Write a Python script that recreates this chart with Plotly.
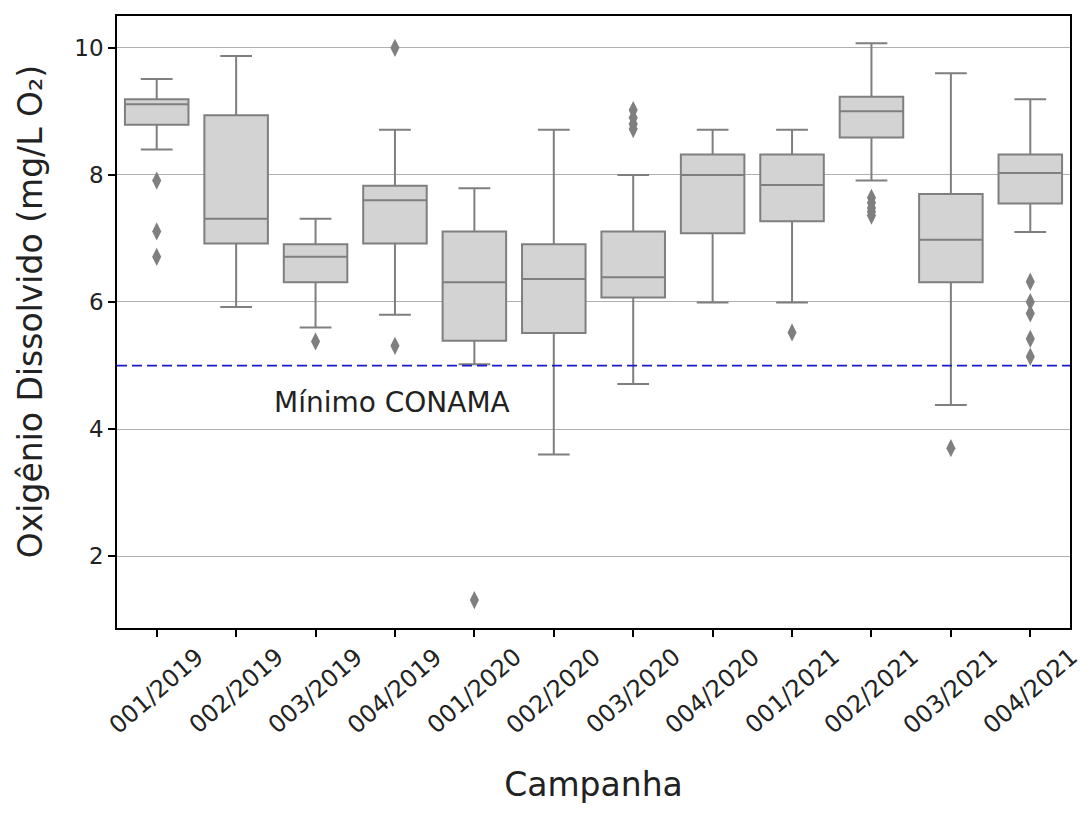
import plotly.graph_objects as go

campanhas = ["001/2019", "002/2019", "003/2019", "004/2019",
             "001/2020", "002/2020", "003/2020", "004/2020",
             "001/2021", "002/2021", "003/2021", "004/2021"]

lower_whisker = [8.40, 5.92, 5.60, 5.80, 5.02, 3.60, 4.71, 5.99, 5.99, 7.91, 4.38, 7.10]
q1_vals       = [8.79, 6.92, 6.31, 6.92, 5.39, 5.51, 6.07, 7.08, 7.27, 8.59, 6.31, 7.55]
median_vals   = [9.11, 7.31, 6.71, 7.60, 6.31, 6.36, 6.39, 8.00, 7.84, 9.00, 6.98, 8.03]
q3_vals       = [9.19, 8.94, 6.91, 7.83, 7.11, 6.91, 7.11, 8.32, 8.32, 9.23, 7.70, 8.32]
upper_whisker = [9.51, 9.87, 7.31, 8.71, 7.79, 8.71, 8.00, 8.71, 8.71, 10.07, 9.60, 9.19]

outlier_campanha = ["001/2019", "001/2019", "001/2019",
                    "003/2019",
                    "004/2019", "004/2019",
                    "001/2020",
                    "003/2020", "003/2020", "003/2020", "003/2020",
                    "001/2021",
                    "002/2021", "002/2021", "002/2021", "002/2021", "002/2021",
                    "003/2021",
                    "004/2021", "004/2021", "004/2021", "004/2021", "004/2021"]
outlier_values = [7.91, 7.11, 6.71,
                  5.38,
                  10.0, 5.31,
                  1.31,
                  9.02, 8.90, 8.80, 8.72,
                  5.52,
                  7.64, 7.56, 7.48, 7.42, 7.36,
                  3.70,
                  6.32, 6.00, 5.82, 5.42, 5.14]

limite_conama = 5.0
y_ticks = [2, 4, 6, 8, 10]

font_family = "DejaVu Sans"
box_line = "#7f7f7f"
text_color = "#222222"

fig = go.Figure()

fig.add_trace(go.Box(
    x=campanhas,
    q1=q1_vals, median=median_vals, q3=q3_vals,
    lowerfence=lower_whisker, upperfence=upper_whisker,
    fillcolor="#d3d3d3",
    line=dict(color=box_line, width=2),
    width=0.8,
    whiskerwidth=0.5,
    boxpoints=False,
    showlegend=False,
    hoverinfo="skip",
))

fig.add_trace(go.Scatter(
    x=outlier_campanha, y=outlier_values,
    mode="markers",
    marker=dict(symbol="diamond-tall", size=13, color=box_line, line=dict(width=0)),
    showlegend=False,
))

fig.add_shape(type="line", xref="paper", yref="y",
              x0=0, x1=1, y0=limite_conama, y1=limite_conama,
              line=dict(color="#1a1acc", width=1.8, dash="10px,5px"))

fig.add_annotation(x=1.45, y=4.42, xref="x", yref="y",
                   text="Mínimo CONAMA", showarrow=False,
                   xanchor="left", yanchor="middle",
                   font=dict(family=font_family, size=28, color=text_color))

# rotated category labels centred under their ticks (matplotlib style)
for c in campanhas:
    fig.add_annotation(x=c, y=0, xref="x", yref="paper",
                       text=c, showarrow=False, textangle=-41,
                       xanchor="center", yanchor="top", yshift=-12,
                       font=dict(family=font_family, size=24, color=text_color))

# y-axis title
fig.add_annotation(x=0, y=0.516, xref="paper", yref="paper",
                   text="Oxigênio Dissolvido (mg/L O₂)", showarrow=False,
                   textangle=-90, xanchor="center", yanchor="middle", xshift=-87,
                   font=dict(family=font_family, size=33, color=text_color))

fig.update_layout(
    width=1084, height=811,
    margin=dict(l=109, r=22, t=6, b=191),
    paper_bgcolor="white", plot_bgcolor="white",
    font=dict(family=font_family, color=text_color),
)

fig.update_xaxes(
    type="category", categoryorder="array", categoryarray=campanhas,
    range=[-0.5, 11.5],
    showticklabels=False,
    ticks="outside", ticklen=7, tickwidth=1.5, tickcolor="black",
    showgrid=False, showline=True, linecolor="black", linewidth=1.5, mirror=True,
    title=dict(text="Campanha", font=dict(size=33, family=font_family), standoff=137),
)

fig.update_yaxes(
    range=[0.87, 10.5],
    tickvals=y_ticks,
    tickfont=dict(size=23, family=font_family),
    ticks="outside", ticklen=7, tickwidth=1.5, tickcolor="black",
    showgrid=True, gridcolor="#b0b0b0", gridwidth=1,
    zeroline=False,
    showline=True, linecolor="black", linewidth=1.5, mirror=True,
)

fig.write_html("out.html")
